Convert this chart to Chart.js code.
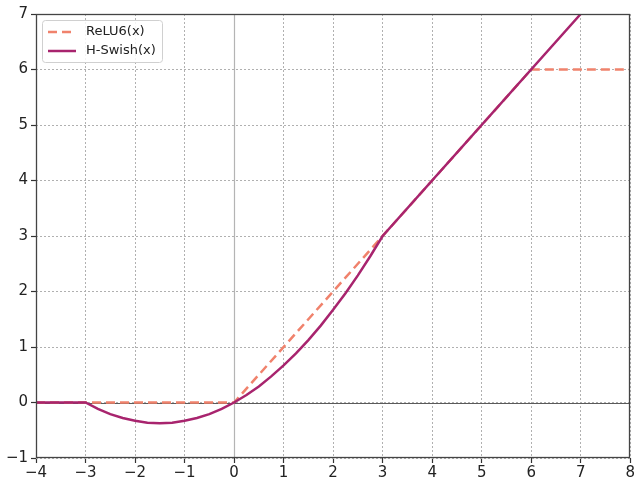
<!DOCTYPE html>
<html>
<head>
<meta charset="utf-8">
<script src="https://cdn.jsdelivr.net/npm/chart.js@4/dist/chart.umd.min.js"></script>
<style>
  html, body { margin: 0; padding: 0; background: #fff; }
  #wrap { width: 636px; height: 481px; }
</style>
</head>
<body>
<div id="wrap"><canvas id="act"></canvas></div>
<script>
// valores
const xTicks = [-4, -3, -2, -1, 0, 1, 2, 3, 4, 5, 6, 7, 8];
const yTicks = [-1, 0, 1, 2, 3, 4, 5, 6, 7];

const relu6X = [-4, 0, 6, 8];
const relu6Y = [0, 0, 6, 6];

const hswishX = [-4, -3.5, -3, -2.75, -2.5, -2.25, -2, -1.75, -1.5, -1.25, -1, -0.75, -0.5, -0.25,
  0, 0.25, 0.5, 0.75, 1, 1.25, 1.5, 1.75, 2, 2.25, 2.5, 2.75, 3, 7];
const hswishY = [0, 0, 0, -0.115, -0.21, -0.28, -0.33, -0.365, -0.375, -0.365, -0.33, -0.28, -0.21, -0.115,
  0, 0.135, 0.29, 0.47, 0.67, 0.885, 1.125, 1.385, 1.67, 1.97, 2.29, 2.635, 3, 7];

const reluColor = '#f0826c';
const swishColor = '#a8246e';

function pts(xs, ys) {
  return xs.map((x, i) => ({ x: x, y: ys[i] }));
}
function minus(v) {
  return String(v).replace('-', '\u2212');
}

// líneas del cero, marco y leyenda
const extras = {
  id: 'extras',
  beforeDatasetsDraw(chart) {
    const { ctx, chartArea: a, scales: { x, y } } = chart;
    ctx.save();
    ctx.lineWidth = 1.2;
    const x0 = Math.round(x.getPixelForValue(0)) + 0.5;
    const y0 = Math.round(y.getPixelForValue(0)) + 0.5;
    ctx.strokeStyle = '#b4b4b4';
    ctx.beginPath();
    ctx.moveTo(x0, a.top); ctx.lineTo(x0, a.bottom);
    ctx.stroke();
    ctx.strokeStyle = '#5a5a5a';
    ctx.beginPath();
    ctx.moveTo(a.left, y0); ctx.lineTo(a.right, y0);
    ctx.stroke();
    ctx.restore();
  },
  afterDraw(chart) {
    const { ctx, chartArea: a } = chart;
    ctx.save();
    ctx.strokeStyle = '#444';
    ctx.lineWidth = 1.3;
    ctx.strokeRect(Math.round(a.left) + 0.5, Math.round(a.top) + 0.5,
      Math.round(a.right - a.left) - 1, Math.round(a.bottom - a.top) - 1);

    // leyenda
    const lx = a.left + 6, ly = a.top + 6, lw = 120, lh = 42;
    ctx.lineWidth = 1;
    ctx.fillStyle = 'rgba(255,255,255,0.85)';
    ctx.strokeStyle = '#d0d0d0';
    ctx.beginPath();
    ctx.roundRect(lx + 0.5, ly + 0.5, lw, lh, 3);
    ctx.fill();
    ctx.stroke();

    ctx.lineWidth = 2.5;
    ctx.strokeStyle = reluColor;
    ctx.setLineDash([9, 5]);
    ctx.beginPath();
    ctx.moveTo(lx + 6, ly + 12); ctx.lineTo(lx + 34, ly + 12);
    ctx.stroke();
    ctx.setLineDash([]);
    ctx.strokeStyle = swishColor;
    ctx.beginPath();
    ctx.moveTo(lx + 6, ly + 31); ctx.lineTo(lx + 34, ly + 31);
    ctx.stroke();

    ctx.fillStyle = '#222';
    ctx.font = '13px "DejaVu Sans"';
    ctx.textBaseline = 'middle';
    ctx.fillText('ReLU6(x)', lx + 44, ly + 12);
    ctx.fillText('H-Swish(x)', lx + 44, ly + 31);
    ctx.restore();
  }
};

const gridOpts = { color: '#b0b0b0', lineWidth: 1, tickLength: 5, tickColor: '#333', tickWidth: 1.2, tickBorderDash: [] };

const ctx = document.getElementById('act').getContext('2d');
const chart = new Chart(ctx, {
  type: 'line',
  data: {
    datasets: [{
      label: 'ReLU6(x)',
      data: pts(relu6X, relu6Y),
      borderColor: reluColor,
      borderWidth: 2.5,
      borderDash: [9, 5],
      pointRadius: 0,
      fill: false,
      order: 2
    }, {
      label: 'H-Swish(x)',
      data: pts(hswishX, hswishY),
      borderColor: swishColor,
      borderWidth: 2.5,
      pointRadius: 0,
      fill: false,
      order: 1
    }]
  },
  options: {
    responsive: true,
    maintainAspectRatio: false,
    animation: false,
    layout: { padding: { top: 14, right: 3, left: 0, bottom: 0 } },
    plugins: {
      legend: { display: false },
      tooltip: { enabled: false }
    },
    scales: {
      x: {
        type: 'linear',
        min: -4, max: 8,
        afterBuildTicks: s => { s.ticks = xTicks.map(v => ({ value: v })); },
        afterFit: s => { s.height = 23; },
        grid: gridOpts,
        border: { display: false, dash: [2, 2] },
        ticks: {
          color: '#222',
          padding: 1,
          maxRotation: 0,
          font: { family: 'DejaVu Sans', size: 15 },
          callback: v => minus(v)
        }
      },
      y: {
        type: 'linear',
        min: -1, max: 7,
        afterBuildTicks: s => { s.ticks = yTicks.map(v => ({ value: v })); },
        afterFit: s => { s.width = 36; },
        grid: gridOpts,
        border: { display: false, dash: [2, 2] },
        ticks: {
          color: '#222',
          padding: 3,
          font: { family: 'DejaVu Sans', size: 15 },
          callback: v => minus(v)
        }
      }
    }
  },
  plugins: [extras]
});
</script>
</body>
</html>
